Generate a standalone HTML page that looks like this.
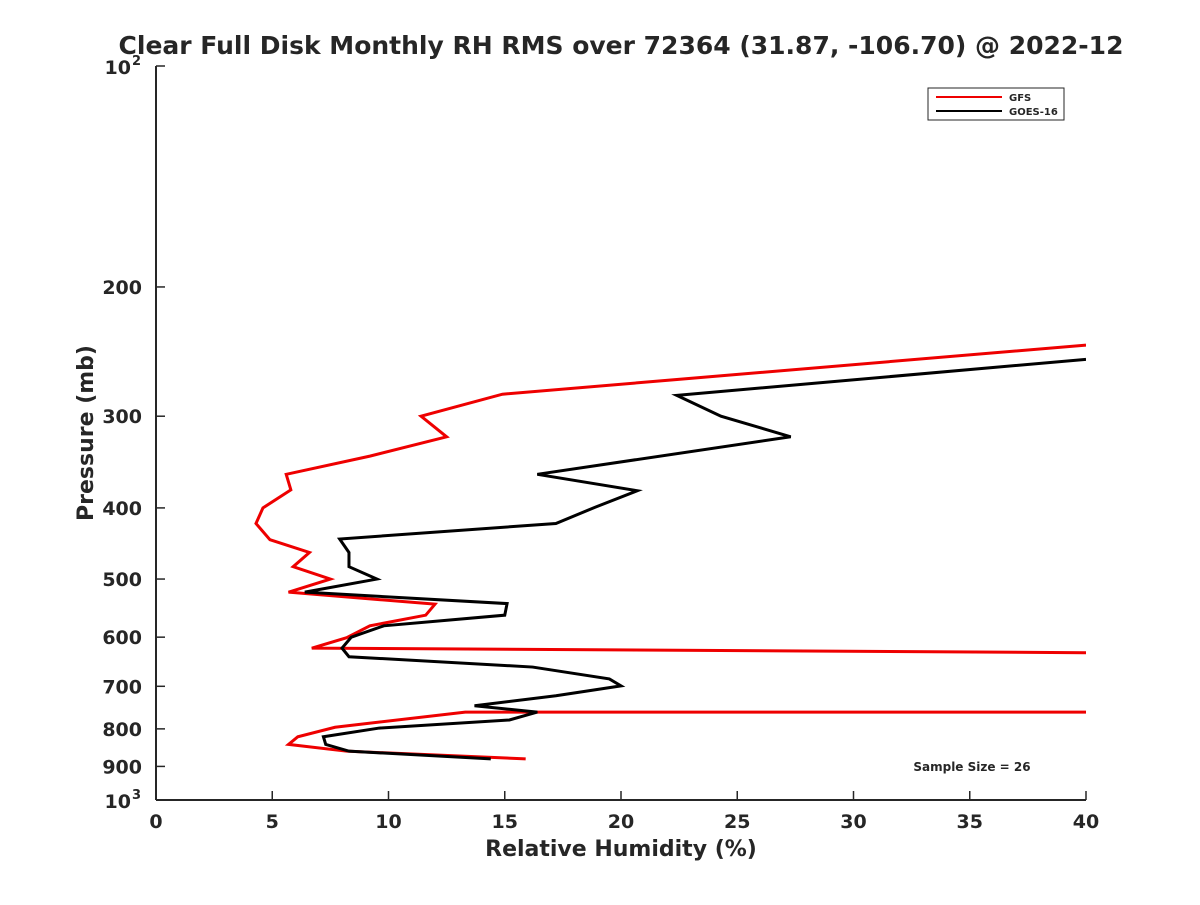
<!DOCTYPE html>
<html><head><meta charset="utf-8"><style>
body{margin:0;background:#fff;font-family:"Liberation Sans",sans-serif}
text{font-family:"DejaVu Sans","Liberation Sans",sans-serif;font-weight:bold;fill:#262626}
</style></head><body>
<svg id="chart" width="1200" height="900" viewBox="0 0 1200 900">
<defs><clipPath id="clip"><rect x="156" y="66" width="930" height="734"/></clipPath></defs>
<rect width="1200" height="900" fill="#fff"/>
<text x="621" y="54" text-anchor="middle" font-size="25">Clear Full Disk Monthly RH RMS over 72364 (31.87, -106.70) @ 2022-12</text>
<g id="axes"></g>
<g id="series" clip-path="url(#clip)"></g>
<text x="621" y="856" text-anchor="middle" font-size="22">Relative Humidity (%)</text>
<text transform="translate(93,433) rotate(-90)" text-anchor="middle" font-size="22">Pressure (mb)</text>
<g>
<rect x="928" y="88" width="136" height="32" fill="#fff" stroke="#262626" stroke-width="1"/>
<line x1="936" y1="97" x2="1002" y2="97" stroke="#e00" stroke-width="2"/>
<text x="1009" y="101" font-size="10">GFS</text>
<line x1="936" y1="111" x2="1002" y2="111" stroke="#000" stroke-width="2"/>
<text x="1009" y="115" font-size="10">GOES-16</text>
</g>
<text x="972" y="771" text-anchor="middle" font-size="12">Sample Size = 26</text>
</svg>
<script>
const pressures = [240,280,300,320,340,360,378,400,420,442,460,481,500,521,541,560,579,601,621,630,640,759,759,796,820,840,858,879];
const gfsValues = [40,14.9,11.4,12.5,9.2,5.6,5.8,4.6,4.3,4.9,6.6,5.9,7.5,5.7,12.0,11.6,9.2,8.2,6.7,40,60,60,13.3,7.7,6.1,5.7,8.2,15.9];
const goesPressures = [251,281,300,320,360,379,399,420,441,460,481,500,521,540,560,579,600,621,638,659,684,699,721,744,759,778,798,820,840,858,879];
const goesValues = [40,22.4,24.3,27.3,16.4,20.7,18.9,17.2,7.9,8.3,8.3,9.5,6.4,15.1,15.0,9.8,8.4,8.0,8.3,16.2,19.5,20.0,17.2,13.7,16.4,15.2,9.6,7.2,7.3,8.3,14.4];
const xTicks = [0,5,10,15,20,25,30,35,40];
const yTicks = [200,300,400,500,600,700,800,900];
const NS="http://www.w3.org/2000/svg";
const X = v => 156 + v*(930/40);
const Y = p => 66 + (Math.log10(p)-2)*734;
function mk(tag, attrs, parent){const e=document.createElementNS(NS,tag);for(const k in attrs)e.setAttribute(k,attrs[k]);parent.appendChild(e);return e;}
const axes=document.getElementById('axes');
let a=mk('line',{x1:156,y1:800,x2:1086,y2:800,stroke:'#262626','stroke-width':2},axes);


a=mk('line',{x1:156,y1:66,x2:156,y2:800,stroke:'#262626','stroke-width':2},axes);


xTicks.forEach(v=>{
 mk('line',{x1:X(v),y1:800,x2:X(v),y2:791,stroke:'#262626','stroke-width':1.5},axes);
 const t=mk('text',{x:X(v),y:828,'text-anchor':'middle','font-size':19},axes);t.textContent=v;
 
 
});
yTicks.forEach(p=>{
 mk('line',{x1:156,y1:Y(p),x2:165,y2:Y(p),stroke:'#262626','stroke-width':1.5},axes);
 const t=mk('text',{x:142,y:Y(p)+7,'text-anchor':'end','font-size':19},axes);t.textContent=p;
 
 
});
[[100,'2'],[1000,'3']].forEach(([p,e])=>{
 mk('line',{x1:156,y1:Y(p),x2:165,y2:Y(p),stroke:'#262626','stroke-width':1.5},axes);
 const t=mk('text',{x:131,y:Y(p)+8,'text-anchor':'end','font-size':19},axes);t.textContent='10';
 
 
 const s=mk('text',{x:132,y:Y(p)-1,'font-size':13},axes);s.textContent=e;
 
 
});
const ser=document.getElementById('series');
let l=mk('polyline',{points:gfsValues.map((v,i)=>X(v)+','+Y(pressures[i])).join(' '),fill:'none',stroke:'#e00','stroke-width':3},ser);


l=mk('polyline',{points:goesValues.map((v,i)=>X(v)+','+Y(goesPressures[i])).join(' '),fill:'none',stroke:'#000','stroke-width':3},ser);


</script>
</body></html>
